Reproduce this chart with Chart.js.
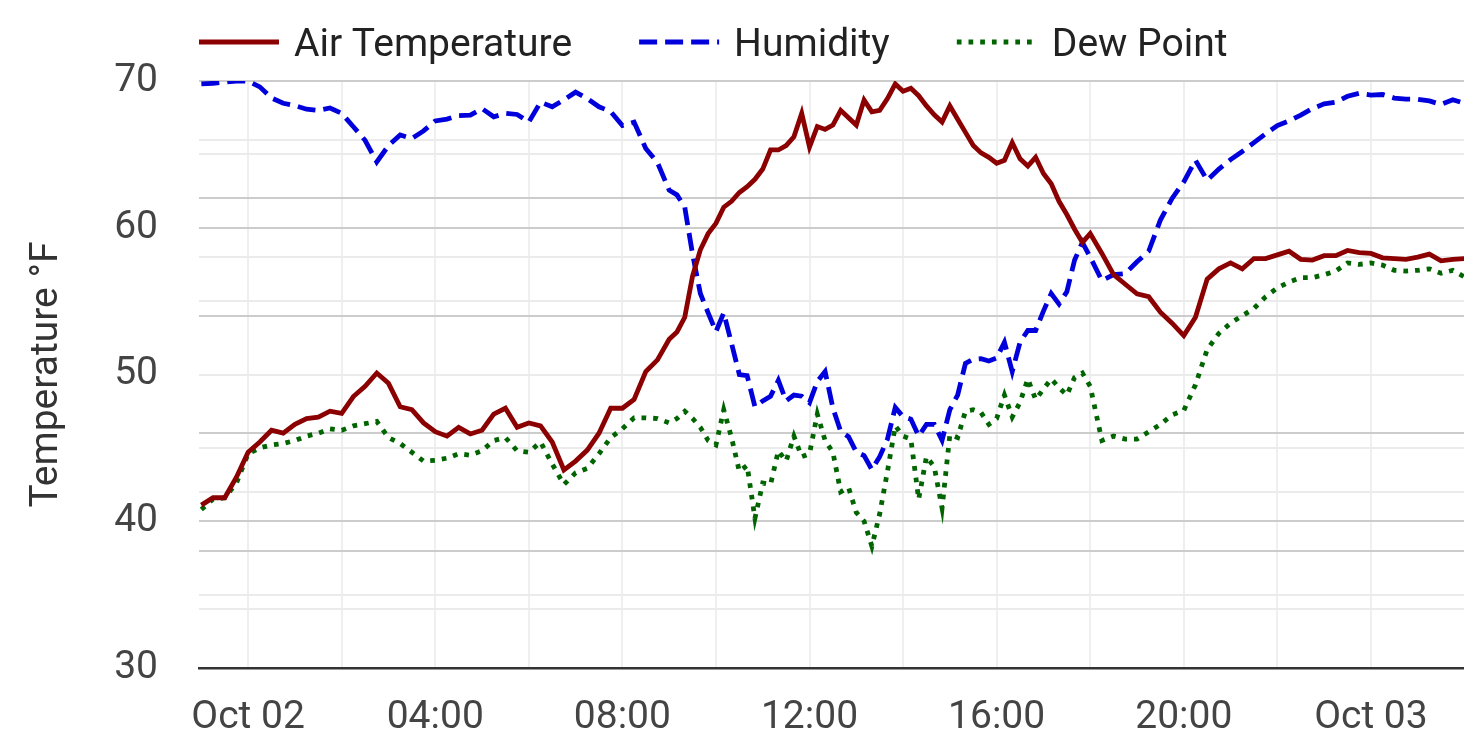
<!DOCTYPE html>
<html>
<head>
<meta charset="utf-8">
<script src="https://cdn.jsdelivr.net/npm/chart.js@4.4.1/dist/chart.umd.min.js"></script>
<style>
  html, body { margin: 0; padding: 0; background: #fff; overflow: hidden; }
  #wrap { width: 1464px; height: 750px; }
</style>
</head>
<body>
<div id="wrap"><canvas id="weatherChart"></canvas></div>
<script>
// minutes since Oct 02 00:00 (15 min readings, 10 min through the afternoon)
const minutes = [
  -60, -45, -30, -15, 0, 15, 30, 45, 60, 75, 90, 105, 120, 135, 150, 165, 180, 195, 210, 225,
  240, 255, 270, 285, 300, 315, 330, 345, 360, 375, 390, 405, 420, 435, 450, 465, 480, 495, 510, 525,
  540, 550, 560, 570, 580, 590, 600, 610, 620, 630, 640, 650, 660, 670, 680, 690, 700, 710,
  720, 730, 740, 750, 760, 770, 780, 790, 800, 810, 820, 830, 840, 850, 860, 870, 880, 890,
  900, 910, 920, 930, 940, 950, 960, 970, 980, 990, 1000, 1010, 1020, 1030, 1040, 1050, 1060, 1070, 1080,
  1095, 1110, 1125, 1140, 1155, 1170, 1185, 1200, 1215, 1230, 1245, 1260, 1275, 1290, 1305, 1320,
  1335, 1350, 1365, 1380, 1395, 1410, 1425, 1440, 1455, 1470, 1485, 1500, 1515, 1530, 1545, 1560
];

// deg F
const airTemp = [
  41.1, 41.6, 41.6, 43.0, 44.7, 45.4, 46.2, 46.0, 46.6, 47.0, 47.1, 47.5, 47.35, 48.5, 49.2, 50.1, 49.4, 47.8, 47.6, 46.7,
  46.1, 45.8, 46.4, 45.95, 46.2, 47.3, 47.7, 46.4, 46.7, 46.5, 45.4, 43.5, 44.1, 44.85, 46.0, 47.7, 47.7, 48.3, 50.2, 51.0,
  52.4, 52.9, 53.9, 56.7, 58.5, 59.6, 60.3, 61.4, 61.8, 62.4, 62.8, 63.3, 64.0, 65.3, 65.3, 65.6, 66.2, 67.8,
  65.5, 66.9, 66.7, 67.0, 68.0, 67.5, 67.0, 68.7, 67.9, 68.0, 68.8, 69.8, 69.3, 69.5, 69.0, 68.3, 67.7, 67.2,
  68.3, 67.4, 66.5, 65.6, 65.1, 64.8, 64.4, 64.6, 65.8, 64.7, 64.2, 64.8, 63.7, 63.0, 61.8, 60.9, 59.9, 59.0, 59.6,
  58.25, 56.8, 56.15, 55.5, 55.3, 54.25, 53.5, 52.65, 53.9, 56.5, 57.2, 57.6, 57.2, 57.9, 57.9, 58.15,
  58.4, 57.85, 57.8, 58.1, 58.1, 58.45, 58.3, 58.25, 57.95, 57.9, 57.85, 58.0, 58.2, 57.75, 57.85, 57.9
];

// percent, drawn on the hidden right axis
const humidity = [
  99.5, 99.6, 99.8, 100.0, 100.0, 99.0, 97.1, 96.2, 95.8, 95.2, 95.0, 95.4, 94.5, 92.2, 89.9, 86.2, 89.0, 90.8, 90.2, 91.5,
  93.2, 93.5, 94.1, 94.2, 95.3, 93.9, 94.5, 94.3, 93.0, 96.4, 95.6, 96.8, 98.1, 97.0, 95.6, 94.8, 92.4, 93.0, 88.5, 86.1,
  81.4, 80.6, 78.5, 70.5, 63.8, 60.5, 57.3, 60.5, 55.3, 50.0, 49.8, 44.5, 45.5, 46.3, 49.0, 45.5, 46.5, 46.3,
  45.2, 48.8, 50.5, 44.3, 40.3, 39.4, 36.8, 36.2, 33.8, 36.0, 39.0, 44.4, 42.8, 42.4, 39.5, 41.5, 41.5, 38.8,
  44.0, 46.5, 51.9, 52.6, 52.7, 52.3, 52.8, 55.5, 50.5, 55.5, 57.5, 57.5, 60.8, 63.8, 62.0, 64.1, 69.5, 72.5, 70.0,
  66.0, 67.0, 67.2, 69.2, 71.0, 76.3, 80.0, 82.8, 86.5, 83.1, 85.0, 86.6, 88.0, 89.5, 91.0, 92.4,
  93.2, 94.2, 95.3, 96.1, 96.4, 97.4, 97.9, 97.6, 97.7, 97.1, 96.9, 96.9, 96.6, 96.0, 96.8, 96.2
];

// deg F
const dewPoint = [
  40.8, 41.5, 41.6, 42.6, 44.6, 45.0, 45.2, 45.3, 45.5, 45.8, 46.0, 46.3, 46.2, 46.5, 46.65, 46.8, 45.7, 45.3, 44.7, 44.1,
  44.15, 44.3, 44.6, 44.5, 44.8, 45.5, 45.7, 44.8, 44.7, 45.4, 43.9, 42.5, 43.3, 43.6, 44.6, 45.7, 46.3, 47.05, 47.05, 47.0,
  46.7, 47.0, 47.5, 47.0, 46.4, 45.5, 45.2, 47.6, 45.7, 43.4, 43.8, 40.2, 42.6, 42.5, 44.8, 44.1, 45.8, 44.4,
  44.6, 47.3, 45.5, 44.7, 42.0, 42.3, 40.6, 40.0, 38.3, 40.5, 43.4, 46.5, 45.8, 45.6, 41.5, 44.4, 43.7, 40.9,
  45.9, 45.7, 47.5, 47.6, 47.4, 46.6, 47.0, 48.6, 47.1, 48.1, 49.7, 48.3, 49.0, 49.7, 49.1, 48.6, 49.8, 50.1, 49.2,
  45.5, 45.8, 45.6, 45.6, 46.1, 46.6, 47.25, 47.55, 49.3, 51.7, 52.8, 53.5, 54.0, 54.5, 55.3, 55.9,
  56.3, 56.6, 56.6, 56.8, 57.05, 57.6, 57.5, 57.6, 57.45, 57.1, 57.05, 57.1, 57.2, 56.9, 57.1, 56.65
];

const dayNames = ['Oct 02', 'Oct 03'];
const tempRange = [30, 70];
const humidityRange = [0, 100];
const minuteRange = [-63, 1559.4];

const gridDark = '#cccccc';
const gridLight = '#ebebeb';
const fontSize = 39;

function points(values) {
  return minutes.map((m, i) => ({ x: m, y: values[i] }));
}

function timeLabel(value) {
  if (value % 240 !== 0) return '';
  if (value % 1440 === 0) return dayNames[value / 1440];
  return String((value / 60) % 24).padStart(2, '0') + ':00';
}

// legend drawn as line samples above the plot
const lineLegend = {
  id: 'lineLegend',
  afterDraw(chart) {
    const { ctx, chartArea } = chart;
    let x = chartArea.left;
    ctx.save();
    ctx.font = fontSize + 'px Roboto';
    ctx.textBaseline = 'middle';
    chart.data.datasets.forEach(ds => {
      ctx.strokeStyle = ds.borderColor;
      ctx.lineWidth = ds.borderWidth;
      ctx.setLineDash(ds.borderDash || []);
      ctx.beginPath();
      ctx.moveTo(x, 42);
      ctx.lineTo(x + 80, 42);
      ctx.stroke();
      ctx.setLineDash([]);
      ctx.fillStyle = '#222';
      ctx.fillText(ds.label, x + 95, 46);
      x += 95 + ctx.measureText(ds.label).width + 67;
    });
    ctx.restore();
  }
};

Chart.defaults.font.family = 'Roboto';
Chart.defaults.font.size = fontSize;
Chart.defaults.color = '#444';

const ctx = document.getElementById('weatherChart');

new Chart(ctx, {
  type: 'line',
  data: {
    datasets: [
      {
        label: 'Air Temperature',
        data: points(airTemp),
        yAxisID: 'y',
        borderColor: '#8b0000',
        borderWidth: 4.8,
        pointRadius: 0,
        tension: 0
      },
      {
        label: 'Humidity',
        data: points(humidity),
        yAxisID: 'y2',
        borderColor: '#0000dd',
        borderWidth: 4.8,
        borderDash: [18, 8],
        pointRadius: 0,
        tension: 0
      },
      {
        label: 'Dew Point',
        data: points(dewPoint),
        yAxisID: 'y',
        borderColor: '#006400',
        borderWidth: 4.8,
        borderDash: [4.7, 7],
        pointRadius: 0,
        tension: 0
      }
    ]
  },
  options: {
    responsive: true,
    maintainAspectRatio: false,
    animation: false,
    layout: { padding: { top: 81, left: 0, right: 0, bottom: 0 } },
    plugins: {
      legend: { display: false },
      tooltip: { enabled: false }
    },
    scales: {
      x: {
        type: 'linear',
        min: minuteRange[0],
        max: minuteRange[1],
        afterFit: (scale) => { scale.height = 82; },
        ticks: {
          stepSize: 120,
          includeBounds: false,
          autoSkip: false,
          maxRotation: 0,
          padding: 27,
          callback: timeLabel
        },
        grid: { color: '#efefef', lineWidth: 2, drawTicks: false },
        border: { display: true, color: '#333', width: 2.5 }
      },
      y: {
        min: tempRange[0],
        max: tempRange[1],
        afterFit: (scale) => { scale.width = 199; },
        title: {
          display: true,
          text: 'Temperature °F',
          color: '#333',
          padding: { top: 24, bottom: 0 }
        },
        ticks: {
          stepSize: 5,
          padding: 41,
          callback: (value) => (value % 10 === 0 ? value : '')
        },
        grid: {
          drawTicks: false,
          lineWidth: 2,
          color: (c) => (c.tick && c.tick.value % 10 === 0 ? gridDark : gridLight)
        },
        border: { display: false }
      },
      y2: {
        position: 'right',
        min: humidityRange[0],
        max: humidityRange[1],
        afterFit: (scale) => { scale.width = 0; },
        ticks: { display: false, stepSize: 10 },
        grid: {
          drawTicks: false,
          lineWidth: 2,
          color: (c) => (c.tick && c.tick.value % 20 === 0 ? gridDark : gridLight)
        },
        border: { display: false }
      }
    }
  },
  plugins: [lineLegend]
});
</script>
</body>
</html>
